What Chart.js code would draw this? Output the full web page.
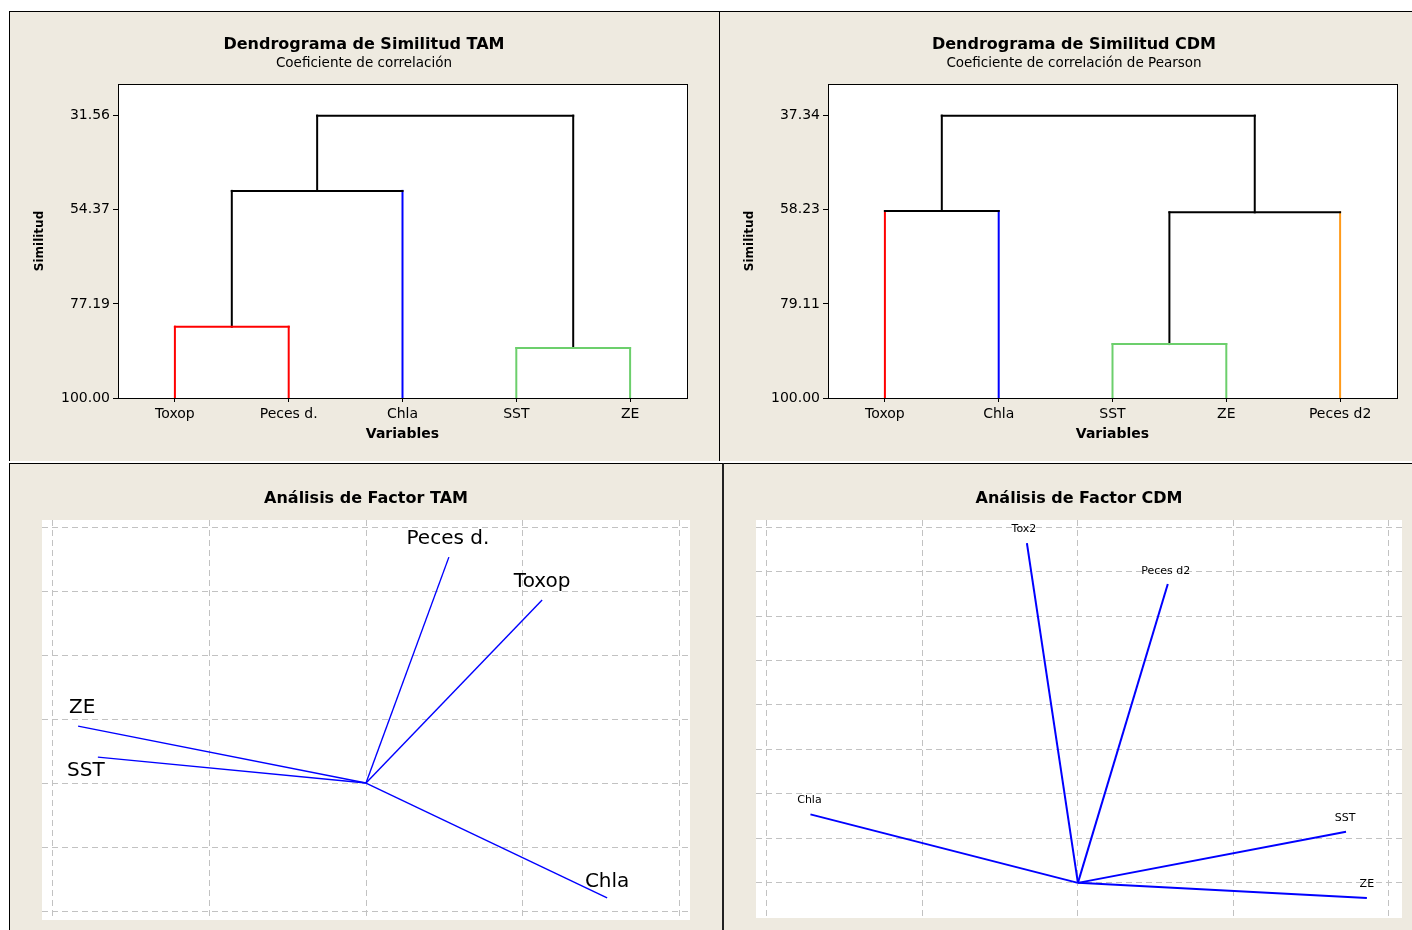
<!DOCTYPE html>
<html>
<head>
<meta charset="utf-8">
<title>Dendrogramas y Análisis de Factor</title>
<script src="https://cdn.jsdelivr.net/npm/chart.js@4.4.1/dist/chart.umd.min.js"></script>
<style>
  html, body { margin: 0; padding: 0; background: #ffffff; }
  body { width: 1412px; height: 930px; position: relative; overflow: hidden; font-family: "DejaVu Sans", sans-serif; }
  .panel { position: absolute; background: #eeeae0; box-sizing: border-box; }
  canvas { position: absolute; }
</style>
</head>
<body>
<div class="panel" style="left:9px;top:11px;width:711px;height:450px;border-left:1px solid #000;border-top:1px solid #000;border-right:1px solid #000;"></div>
<div class="panel" style="left:720px;top:11px;width:692px;height:450px;border-top:1px solid #000;"></div>
<div class="panel" style="left:9px;top:463px;width:715px;height:467px;border-left:1px solid #000;border-top:1px solid #000;border-right:2px solid #222;"></div>
<div class="panel" style="left:724px;top:463px;width:688px;height:467px;border-top:1px solid #000;"></div>

<canvas id="dendTAM" width="709" height="449" style="left:10px;top:12px;"></canvas>
<canvas id="dendCDM" width="692" height="449" style="left:720px;top:12px;"></canvas>
<canvas id="factorTAM" width="712" height="466" style="left:10px;top:464px;"></canvas>
<canvas id="factorCDM" width="688" height="466" style="left:724px;top:464px;"></canvas>

<script>
// ---- Dendrograma de Similitud TAM ----
const tamLeaves = ['Toxop', 'Peces d.', 'Chla', 'SST', 'ZE'];
const tamTicks = [31.56, 54.37, 77.19, 100.00];
// merges: node indices (0-4 leaves, 5.. merged clusters in order)
const tamMergePairs = [[3, 4], [0, 1], [6, 2], [7, 5]];
const tamMergeSimilarity = [87.88, 82.72, 49.80, 31.56];
const tamLeafColors = ['#ff0000', '#ff0000', '#0000ff', '#6ccf6c', '#6ccf6c'];
const tamMergeColors = ['#6ccf6c', '#ff0000', '#000000', '#000000'];

// ---- Dendrograma de Similitud CDM ----
const cdmLeaves = ['Toxop', 'Chla', 'SST', 'ZE', 'Peces d2'];
const cdmTicks = [37.34, 58.23, 79.11, 100.00];
const cdmMergePairs = [[2, 3], [5, 4], [0, 1], [7, 6]];
const cdmMergeSimilarity = [88.03, 58.80, 58.50, 37.34];
const cdmLeafColors = ['#ff0000', '#0000ff', '#6ccf6c', '#6ccf6c', '#ff9a1a'];
const cdmMergeColors = ['#6ccf6c', '#000000', '#000000', '#000000'];

// ---- Análisis de Factor TAM (cargas) ----
const tamVars = ['Peces d.', 'Toxop', 'ZE', 'SST', 'Chla'];
const tamFactor1 = [0.264, 0.561, -0.917, -0.854, 0.768];
const tamFactor2 = [0.706, 0.572, 0.178, 0.081, -0.359];
const tamFactorXTicks = [-1, -0.5, 0, 0.5, 1];
const tamFactorYTicks = [-0.4, -0.2, 0, 0.2, 0.4, 0.6, 0.8];

// ---- Análisis de Factor CDM (cargas) ----
const cdmVars = ['Tox2', 'Peces d2', 'Chla', 'SST', 'ZE'];
const cdmFactor1 = [-0.164, 0.289, -0.860, 0.862, 0.929];
const cdmFactor2 = [0.764, 0.672, 0.154, 0.115, -0.034];
const cdmFactorXTicks = [-1, -0.5, 0, 0.5, 1];
const cdmFactorYTicks = [0, 0.1, 0.2, 0.3, 0.4, 0.5, 0.6, 0.7, 0.8];

const FONT = '"DejaVu Sans", sans-serif';

// Text drawn on the canvas: titles, axis titles
const panelText = {
  id: 'panelText',
  afterDraw(chart, args, opts) {
    const ctx = chart.ctx;
    const area = chart.chartArea;
    (opts.items || []).forEach(it => {
      ctx.save();
      ctx.font = it.font;
      ctx.fillStyle = it.color || '#000';
      ctx.textAlign = 'center';
      ctx.textBaseline = 'middle';
      const x = it.x === 'area' ? (area.left + area.right) / 2 : it.x;
      const y = it.y === 'area' ? (area.top + area.bottom) / 2 : it.y;
      ctx.translate(x, y);
      if (it.rotate) ctx.rotate(it.rotate);
      ctx.fillText(it.text, 0, 0);
      ctx.restore();
    });
  }
};

// White plotting region, optional black frame
const plotArea = {
  id: 'plotArea',
  beforeDraw(chart, args, opts) {
    const { ctx, chartArea: a } = chart;
    ctx.save();
    ctx.fillStyle = '#ffffff';
    ctx.fillRect(a.left, a.top, a.right - a.left, a.bottom - a.top);
    ctx.restore();
  },
  afterDraw(chart, args, opts) {
    if (!opts.frame) return;
    const { ctx, chartArea: a } = chart;
    ctx.save();
    ctx.strokeStyle = '#000';
    ctx.lineWidth = 1;
    ctx.strokeRect(Math.round(a.left) + 0.5, Math.round(a.top) + 0.5,
                   Math.round(a.right - a.left), Math.round(a.bottom - a.top));
    ctx.restore();
  }
};

// Variable names at the end of each loading vector
const vectorLabels = {
  id: 'vectorLabels',
  afterDatasetsDraw(chart, args, opts) {
    const ctx = chart.ctx;
    const xs = chart.scales.x, ys = chart.scales.y;
    ctx.save();
    ctx.font = opts.font;
    ctx.fillStyle = '#000';
    ctx.textAlign = 'center';
    ctx.textBaseline = 'middle';
    opts.names.forEach((name, i) => {
      const off = opts.offsets[i];
      const px = xs.getPixelForValue(opts.xs[i]) + off[0];
      const py = ys.getPixelForValue(opts.ys[i]) + off[1];
      ctx.fillText(name, px, py);
    });
    ctx.restore();
  }
};

function dendrogram(id, leaves, ticks, pairs, sims, leafColors, mergeColors, title, subtitle, padRight) {
  const nodeX = leaves.map((_, i) => i);
  const nodeY = leaves.map(() => 100);
  const datasets = [];
  const seg = (p1, p2, color) => datasets.push({
    data: [p1, p2], showLine: true, borderColor: color, borderWidth: 2,
    borderCapStyle: 'square', pointRadius: 0, fill: false, tension: 0
  });
  pairs.forEach(([a, b], k) => {
    const h = sims[k];
    const c = mergeColors[k];
    const ca = a < leaves.length ? leafColors[a] : c;
    const cb = b < leaves.length ? leafColors[b] : c;
    seg({ x: nodeX[a], y: h }, { x: nodeX[b], y: h }, c);
    seg({ x: nodeX[a], y: nodeY[a] }, { x: nodeX[a], y: h }, ca);
    seg({ x: nodeX[b], y: nodeY[b] }, { x: nodeX[b], y: h }, cb);
    nodeX.push((nodeX[a] + nodeX[b]) / 2);
    nodeY.push(h);
  });
  const top = ticks[0] - (100 - ticks[0]) * 0.112;
  new Chart(document.getElementById(id), {
    type: 'scatter',
    data: { datasets },
    plugins: [plotArea, panelText],
    options: {
      responsive: false, animation: false, devicePixelRatio: 1,
      layout: { padding: { left: 8, top: 72, right: padRight, bottom: 18 } },
      plugins: {
        legend: { display: false }, tooltip: { enabled: false },
        plotArea: { frame: true },
        panelText: { items: [
          { text: title, x: 354, y: 33, font: 'bold 16px ' + FONT },
          { text: subtitle, x: 354, y: 51, font: '13.5px ' + FONT },
          { text: 'Similitud', x: 30, y: 'area', rotate: -Math.PI / 2, font: 'bold 12px ' + FONT },
          { text: 'Variables', x: 'area', y: 422, font: 'bold 14px ' + FONT }
        ] }
      },
      scales: {
        x: {
          type: 'linear', min: -0.5, max: leaves.length - 0.5,
          afterBuildTicks: s => { s.ticks = leaves.map((_, i) => ({ value: i })); },
          afterFit: s => { s.height = 45; },
          ticks: { callback: (v, i) => leaves[i], color: '#000', font: { family: FONT, size: 14 },
                   padding: 4, autoSkip: false, maxRotation: 0 },
          grid: { drawOnChartArea: false, drawTicks: true, tickLength: 4, color: '#000', lineWidth: 1 },
          border: { display: true, color: '#000', width: 1 }
        },
        y: {
          type: 'linear', reverse: true, min: top, max: 100,
          afterBuildTicks: s => { s.ticks = ticks.map(v => ({ value: v })); },
          afterFit: s => { s.width = 100; },
          ticks: { callback: v => Number(v).toFixed(2), color: '#000', font: { family: FONT, size: 14 }, padding: 3 },
          grid: { drawOnChartArea: false, drawTicks: true, tickLength: 5, color: '#000', lineWidth: 1 },
          border: { display: true, color: '#000', width: 1 }
        }
      }
    }
  });
}

function factorPlot(id, names, f1, f2, xTicks, yTicks, xRange, yRange, pad, offsets, labelFont, lineWidth, title) {
  const datasets = names.map((n, i) => ({
    label: n,
    data: [{ x: 0, y: 0 }, { x: f1[i], y: f2[i] }],
    showLine: true, borderColor: '#0000ff', borderWidth: lineWidth,
    pointRadius: 0, fill: false, tension: 0
  }));
  const gridScale = (range, tk, vertical) => ({
    type: 'linear', min: range[0], max: range[1],
    afterBuildTicks: s => { s.ticks = tk.map(v => ({ value: v })); },
    afterFit: s => { if (vertical) s.width = 0; else s.height = 0; },
    ticks: { display: false },
    grid: { drawOnChartArea: true, drawTicks: false, tickLength: 0, color: '#c2c2c2', lineWidth: 1 },
    border: { display: false, dash: [6, 4] }
  });
  new Chart(document.getElementById(id), {
    type: 'scatter',
    data: { datasets },
    plugins: [plotArea, panelText, vectorLabels],
    options: {
      responsive: false, animation: false, devicePixelRatio: 1,
      layout: { padding: pad },
      plugins: {
        legend: { display: false }, tooltip: { enabled: false },
        plotArea: { frame: false },
        panelText: { items: [{ text: title, x: 'area', y: 35, font: 'bold 16px ' + FONT }] },
        vectorLabels: { names, xs: f1, ys: f2, offsets, font: labelFont }
      },
      scales: { x: gridScale(xRange, xTicks, false), y: gridScale(yRange, yTicks, true) }
    }
  });
}

dendrogram('dendTAM', tamLeaves, tamTicks, tamMergePairs, tamMergeSimilarity,
  tamLeafColors, tamMergeColors, 'Dendrograma de Similitud TAM', 'Coeficiente de correlación', 32);
dendrogram('dendCDM', cdmLeaves, cdmTicks, cdmMergePairs, cdmMergeSimilarity,
  cdmLeafColors, cdmMergeColors, 'Dendrograma de Similitud CDM', 'Coeficiente de correlación de Pearson', 15);

factorPlot('factorTAM', tamVars, tamFactor1, tamFactor2, tamFactorXTicks, tamFactorYTicks,
  [-1.032, 1.032], [-0.428, 0.822], { left: 32, top: 56, right: 32, bottom: 10 },
  [[-1, -18], [0, -18], [4, -18], [-12, 14], [0, -16]], '20px ' + FONT, 1.4, 'Análisis de Factor TAM');
factorPlot('factorCDM', cdmVars, cdmFactor1, cdmFactor2, cdmFactorXTicks, cdmFactorYTicks,
  [-1.035, 1.042], [-0.079, 0.816], { left: 32, top: 56, right: 10, bottom: 12 },
  [[-3, -14], [-2, -13], [-1, -14], [-1, -14], [0, -14]], '11px ' + FONT, 2, 'Análisis de Factor CDM');
</script>
</body>
</html>
